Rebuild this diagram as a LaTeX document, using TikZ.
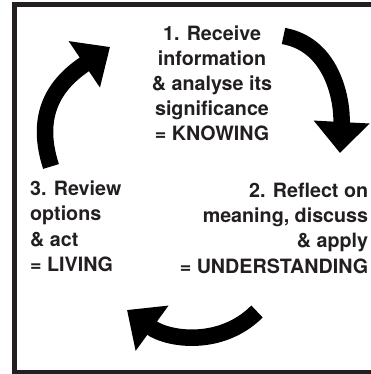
\documentclass[tikz,border=0pt]{standalone}
\usepackage{fontspec}
\setmainfont{TeX Gyre Heros}
\usetikzlibrary{arrows.meta}
\definecolor{ink}{HTML}{231F20}

\begin{document}
\begin{tikzpicture}[x=1pt,y=1pt]
\tikzstyle{every node}=[inner sep=0pt,text=ink,font=\bfseries\fontsize{19.7}{25.2}\selectfont]
\tikzstyle{cycle arrow}=[line width=16.5pt,-{Triangle[width=54pt,length=31pt]}]
\useasboundingbox (0,0) rectangle (371,374);
\draw[ink,line width=5pt] (14.7,1.5) rectangle (390,369.8);
\node[align=center,anchor=north] (know) at (212,348.7) {1. Receive\\information\\\& analyse its\\significance\\= KNOWING};
\node[align=right,anchor=north east] (under) at (368.3,191.1) {2. Reflect on\\meaning, discuss\\\& apply\\= UNDERSTANDING};
\node[align=left,anchor=north west] (live) at (30,193.2) {3. Review\\options\\\& act\\= LIVING};
\coordinate (know-tail) at (283.5,338);
\coordinate (know-tip) at (340,221);
\coordinate (under-tail) at (257,62.5);
\coordinate (under-tip) at (127,64);
\coordinate (live-tail) at (51,207.5);
\coordinate (live-tip) at (110,327);
\draw[cycle arrow] (know-tail) to[out=-10,in=87] (know-tip);
\draw[cycle arrow] (under-tail) to[out=225,in=324] (under-tip);
\draw[cycle arrow] (live-tail) to[out=108,in=214,looseness=1.15] (live-tip);
\end{tikzpicture}
\end{document}
